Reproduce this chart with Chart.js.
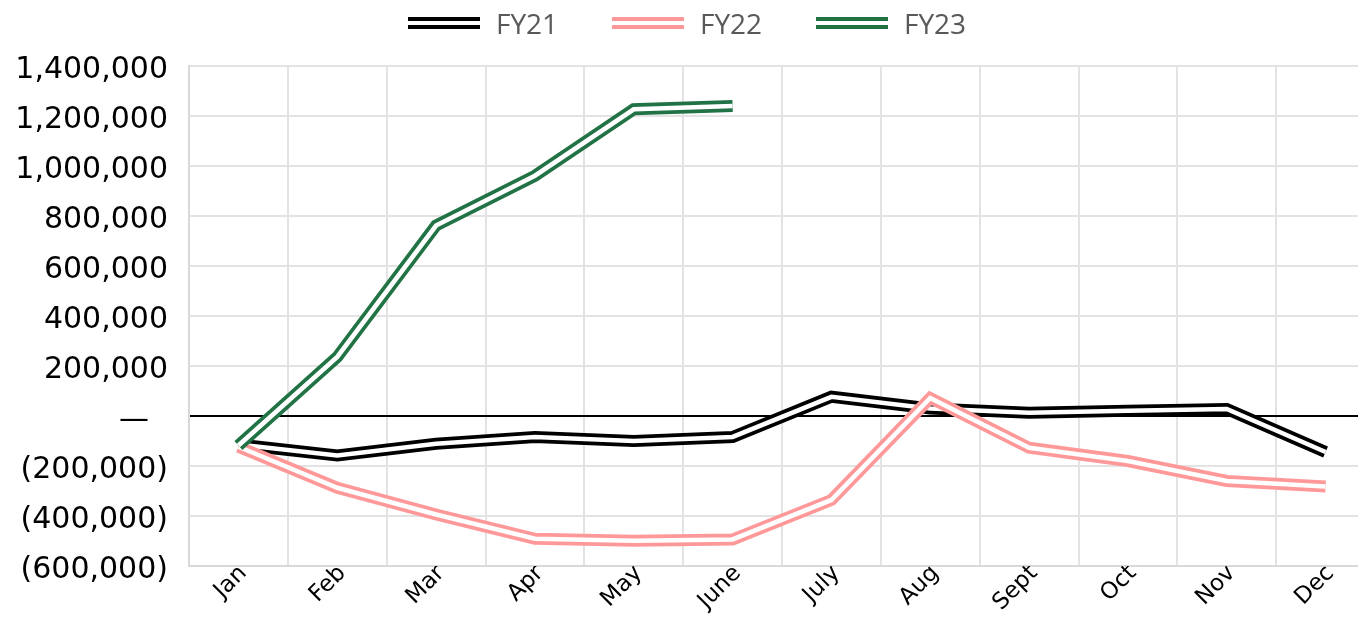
<!DOCTYPE html>
<html>
<head>
<meta charset="utf-8">
<script src="https://cdn.jsdelivr.net/npm/chart.js@4.4.1/dist/chart.umd.min.js"></script>
<style>
    html, body { margin: 0; padding: 0; background: #fff; overflow: hidden; }
    #wrap { position: relative; width: 1358px; height: 620px; overflow: hidden; }
    #fyChart { position: absolute; left: 0; top: 0; }
    #legend {
        position: absolute; top: 10px; left: 408px; height: 26px;
        display: flex; align-items: center;
        font-family: "Open Sans", sans-serif; font-size: 28px; line-height: 26px; color: #595959;
    }
    .item { display: flex; align-items: center; width: 204px; }
    .swatch { width: 72px; height: 4px; border-top: 4px solid; border-bottom: 4px solid; margin-right: 16px; }
</style>
</head>
<body>
<div id="wrap">
    <canvas id="fyChart" width="1375" height="620"></canvas>
    <div id="legend"></div>
</div>
<script>
const months = ['Jan', 'Feb', 'Mar', 'Apr', 'May', 'June', 'July', 'Aug', 'Sept', 'Oct', 'Nov', 'Dec'];
const seriesNames = ['FY21', 'FY22', 'FY23'];
const seriesColors = ['#000000', '#ff9999', '#217346'];

const fy21 = [-114000, -158000, -111000, -84000, -100000, -84000, 77000, 30000, 13000, 21000, 28000, -144000];
const fy22 = [-123000, -287000, -394000, -491000, -499000, -494000, -336000, 72000, -127000, -180000, -260000, -282000];
const fy23 = [-118000, 236000, 762000, 961000, 1227000, 1240000];

const yMin = -600000, yMax = 1400000, yStep = 200000;

(function () {
    const values = [fy21, fy22, fy23];
    const datasets = [];

    // each series is a thick coloured stroke with a thin white stroke on top (double line look)
    values.forEach(function (data, i) {
        const base = (values.length - i) * 2;
        datasets.push({
            label: seriesNames[i],
            data: data,
            borderColor: seriesColors[i],
            borderWidth: 12,
            pointRadius: 0,
            tension: 0,
            order: base
        });
        datasets.push({
            label: seriesNames[i] + ' inner',
            data: data,
            borderColor: '#ffffff',
            borderWidth: 4.6,
            pointRadius: 0,
            tension: 0,
            order: base - 1
        });
    });

    function formatTick(v) {
        if (v === 0) return '\u2014\u00a0\u00a0';
        const s = Math.abs(v).toLocaleString('en-US');
        return v < 0 ? '(' + s + ')' : s;
    }

    new Chart(document.getElementById('fyChart'), {
        type: 'line',
        data: { labels: months, datasets: datasets },
        options: {
            responsive: false,
            animation: false,
            layout: { padding: { top: 66, left: 0, right: 0, bottom: 0 } },
            plugins: { legend: { display: false }, tooltip: { enabled: false } },
            scales: {
                x: {
                    offset: true,
                    grid: { offset: true, color: '#e3e3e3', lineWidth: 2, drawTicks: false },
                    border: { color: '#d9d9d9', width: 2 },
                    ticks: {
                        autoSkip: false, minRotation: 45, maxRotation: 45, padding: -6, labelOffset: 5,
                        color: '#000', font: { family: 'DejaVu Sans', size: 23 }
                    },
                    afterFit: function (scale) { scale.height = 54; }
                },
                y: {
                    min: yMin, max: yMax,
                    grid: {
                        drawTicks: false,
                        color: function (c) { return c.tick && c.tick.value === 0 ? '#000' : '#e3e3e3'; },
                        lineWidth: 2
                    },
                    border: { color: '#d9d9d9', width: 2 },
                    ticks: {
                        stepSize: yStep, padding: 21, labelOffset: 4,
                        color: '#000', font: { family: 'DejaVu Sans', size: 30 },
                        callback: formatTick
                    },
                    afterFit: function (scale) { scale.width = 189; }
                }
            }
        }
    });

    const legend = document.getElementById('legend');
    seriesNames.forEach(function (name, i) {
        const item = document.createElement('div');
        item.className = 'item';
        const sw = document.createElement('span');
        sw.className = 'swatch';
        sw.style.borderColor = seriesColors[i];
        const txt = document.createElement('span');
        txt.textContent = name;
        item.appendChild(sw);
        item.appendChild(txt);
        legend.appendChild(item);
    });
})();
</script>
</body>
</html>
